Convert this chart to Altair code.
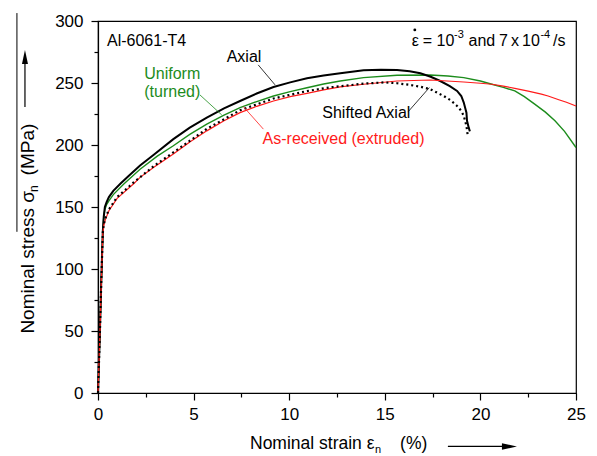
import altair as alt
import pandas as pd

# ---------------- data ----------------
AXIAL_STRAIN = [0, 0.1, 0.17, 0.25, 0.3, 0.36, 0.45, 0.57, 0.8, 1.18, 1.6, 2.2, 2.9, 3.94, 4.8,
                5.69, 6.59, 7.43, 8.3, 9.18, 10.05, 10.93, 11.8, 12.67, 13.89, 14.8, 15.64, 16.3,
                16.86, 17.4, 17.9, 18.4, 18.78, 19.0, 19.13, 19.27, 19.3, 19.39, 19.45]
AXIAL_STRESS = [0, 50, 90, 130, 142, 150, 154, 158, 163, 169, 175, 183.5, 192, 204.7, 214,
                222, 229.5, 235.5, 241.5, 246.8, 250.5, 253.8, 256, 257.8, 260.2, 260.6, 260.5, 259.5,
                257.8, 255, 251.6, 247.5, 243.6, 239.5, 234.2, 226.1, 219.5, 214, 211]

UNIFORM_STRAIN = [0, 0.1, 0.18, 0.26, 0.3, 0.36, 0.45, 0.57, 0.8, 1.35, 2.2, 3.1, 3.94, 4.8,
                  5.69, 6.59, 7.43, 8.3, 9.18, 10.05, 10.93, 11.8, 12.67, 13.89, 15.64, 17.38,
                  18.3, 19.13, 20.0, 20.6, 21.2, 21.8, 22.3, 22.84, 23.4, 23.9, 24.4, 25.0]
UNIFORM_STRESS = [0, 50, 92, 132, 141.7, 148, 152, 155, 160, 168.5, 180.5, 191, 199.4, 208.5,
                  216.8, 224, 230.2, 235, 239.5, 243, 246.2, 249.2, 251.6, 254.3, 256.2, 256.4,
                  255.6, 254.3, 251.6, 249, 246.5, 243.6, 239, 233, 226.5, 219.5, 211, 198]

EXTRUDED_STRAIN = [0, 0.1, 0.17, 0.25, 0.3, 0.39, 0.57, 1.0, 1.88, 2.2, 2.92, 3.94, 4.8, 5.69,
                   6.59, 7.43, 8.3, 9.18, 10.05, 10.93, 11.8, 12.67, 13.89, 15.64, 17.38, 19.13,
                   20.0, 20.6, 21.2, 21.8, 22.5, 23.19, 23.54, 24.1, 24.5, 25.0]
EXTRUDED_STRESS = [0, 48, 88, 128, 135, 140, 147, 157, 169, 173.9, 182, 192.7, 202.5, 211.4,
                   219.5, 226.1, 231.2, 235.5, 239, 241.7, 244.5, 246.8, 249, 251.6, 252.4, 250.8,
                   249.8, 249, 247.5, 245.7, 243.5, 241, 239.5, 236.5, 234.5, 231.5]

SHIFTED_STRAIN = [0, 0.1, 0.17, 0.25, 0.3, 0.39, 0.57, 1.0, 1.88, 2.92, 3.94, 5.69, 7.43, 9.18,
                  10.93, 12.15, 13.89, 14.98, 15.64, 16.3, 16.86, 17.38, 17.7, 18.08, 18.45,
                  18.78, 19.0, 19.13, 19.27, 19.34]
SHIFTED_STRESS = [0, 49, 89, 129, 136, 141, 148, 158, 170, 183, 194, 213, 228, 237.5,
                  243.5, 246.5, 249.5, 250.5, 249.8, 248.5, 247, 245, 242.5, 239.5, 236,
                  231.5, 227.5, 223.5, 215.4, 207.4]

X_TICKS = [0, 2.5, 5, 7.5, 10, 12.5, 15, 17.5, 20, 22.5, 25]
Y_TICKS = [0, 25, 50, 75, 100, 125, 150, 175, 200, 225, 250, 275, 300]

GREEN = "#1c8c1c"
RED = "#ff1a1a"
BLACK = "#000000"
FONT = "Liberation Sans"

# annotation texts: (strain, stress, text, colour, font size, angle)
TEXT_X = [0.47,
          16.41, 16.98, 17.71, 18.62, 19.38, 20.97, 21.6, 22.18, 23.14, 23.8,
          6.73, 2.42, 2.42, 11.73, 8.61,
          7.95, 14.49, 15.8,
          -3.35, -3.12, -3.35]
TEXT_Y = [279.5,
          279.5, 279.5, 279.5, 285.9, 279.5, 279.5, 279.5, 279.5, 285.9, 279.5,
          267.2, 253.0, 238.6, 221.6, 200.9,
          -45.5, -48.5, -45.5,
          47.9, 162.0, 175.5]
TEXT_S = ["Al-6061-T4",
          "\u03b5", "=", "10", "-3", "and", "7", "x", "10", "-4", "/s",
          "Axial", "Uniform", "(turned)", "Shifted Axial", "As-received (extruded)",
          "Nominal strain \u03b5", "n", "(%)",
          "Nominal stress \u03c3", "n", "(MPa)"]
TEXT_C = [BLACK,
          BLACK, BLACK, BLACK, BLACK, BLACK, BLACK, BLACK, BLACK, BLACK, BLACK,
          BLACK, GREEN, GREEN, BLACK, RED,
          BLACK, BLACK, BLACK,
          BLACK, BLACK, BLACK]
TEXT_F = [16,
          16, 16, 16, 11, 16, 16, 16, 16, 11, 16,
          16, 16, 16, 16, 16,
          17.5, 11, 17.5,
          19, 12, 19]
TEXT_A = [0,
          0, 0, 0, 0, 0, 0, 0, 0, 0, 0,
          0, 0, 0, 0, 0,
          0, 0, 0,
          270, 270, 270]

# leader lines, axis-title arrows and overline: from (x1,y1) to (x2,y2)
RULE_X1 = [8.38, 5.33, 16.23, 8.65, 18.3, -3.82, -4.24]
RULE_Y1 = [264.6, 240.4, 227.0, 212.8, -43.1, 230.7, 306.4]
RULE_X2 = [9.26, 6.47, 17.33, 7.6, 21.3, -3.82, -4.24]
RULE_Y2 = [248.5, 224.3, 246.3, 231.0, -43.1, 270.0, 130.0]
RULE_C = [BLACK, GREEN, BLACK, RED, BLACK, BLACK, BLACK]
RULE_W = [0.8, 0.8, 0.8, 0.8, 1.2, 1.2, 1.0]

HEAD_X = [21.91, -3.82]
HEAD_Y = [-43.1, 276.6]
HEAD_SHAPE = ["M 0 0 L -3 -0.65 L -3 0.65 Z", "M 0 0 L -0.6 2.8 L 0.6 2.8 Z"]

DOT_X = [16.57]
DOT_Y = [292.8]

# ---------------- build tables ----------------
def series(xs, ys):
    return pd.DataFrame({"strain": xs, "stress": ys, "order": list(range(len(xs)))})

axial_df = series(AXIAL_STRAIN, AXIAL_STRESS)
uniform_df = series(UNIFORM_STRAIN, UNIFORM_STRESS)
extruded_df = series(EXTRUDED_STRAIN, EXTRUDED_STRESS)
shifted_df = series(SHIFTED_STRAIN, SHIFTED_STRESS)

text_df = pd.DataFrame({"strain": TEXT_X, "stress": TEXT_Y, "label": TEXT_S,
                        "color": TEXT_C, "fsize": TEXT_F, "angle": TEXT_A})
rule_df = pd.DataFrame({"strain": RULE_X1, "stress": RULE_Y1, "strain2": RULE_X2,
                        "stress2": RULE_Y2, "color": RULE_C, "w": RULE_W})
head_df = pd.DataFrame({"strain": HEAD_X, "stress": HEAD_Y, "shape": HEAD_SHAPE})
dot_df = pd.DataFrame({"strain": DOT_X, "stress": DOT_Y})

x_scale = alt.Scale(domain=[0, 25], nice=False, zero=False)
y_scale = alt.Scale(domain=[0, 300], nice=False, zero=False)

common_axis = dict(title=None, grid=False, domainColor="black", domainWidth=1.2,
                   tickColor="black", tickWidth=1.2, labelFont=FONT, labelFontSize=17,
                   labelColor="black")

x_axis = alt.Axis(values=X_TICKS,
                  labelExpr="datum.value % 5 === 0 ? datum.label : ''",
                  tickSize={"condition": {"test": "datum.value % 5 === 0", "value": 7}, "value": 4},
                  labelPadding=6, labelFlush=False, **common_axis)
y_axis = alt.Axis(values=Y_TICKS,
                  labelExpr="datum.value % 50 === 0 ? datum.label : ''",
                  tickSize={"condition": {"test": "datum.value % 50 === 0", "value": 7}, "value": 4},
                  labelPadding=8, labelFlush=False, **common_axis)

X = alt.X("strain:Q", scale=x_scale, axis=x_axis)
Y = alt.Y("stress:Q", scale=y_scale, axis=y_axis)

def line(df, color, width, dash=None):
    kw = dict(color=color, strokeWidth=width, clip=False)
    if dash:
        kw.update(strokeDash=dash, strokeCap="butt")
    return alt.Chart(df).mark_line(**kw).encode(x=X, y=Y, order="order:Q")

uniform = line(uniform_df, GREEN, 1.4)
axial = line(axial_df, BLACK, 2.0)
extruded = line(extruded_df, RED, 1.2)
shifted = line(shifted_df, BLACK, 2.2, dash=[2, 3])

rules = alt.Chart(rule_df).mark_rule().encode(
    x=X, y=Y, x2="strain2:Q", y2="stress2:Q",
    color=alt.Color("color:N", scale=None),
    strokeWidth=alt.StrokeWidth("w:Q", scale=None),
)

heads = alt.Chart(head_df).mark_point(filled=True, size=100, opacity=1, color="black",
                                      strokeWidth=0).encode(
    x=X, y=Y, shape=alt.Shape("shape:N", scale=None))

dot = alt.Chart(dot_df).mark_point(filled=True, size=8, opacity=1, color="black").encode(x=X, y=Y)

texts = alt.Chart(text_df).mark_text(align="left", baseline="alphabetic", font=FONT).encode(
    x=X, y=Y, text="label:N",
    color=alt.Color("color:N", scale=None),
    size=alt.Size("fsize:Q", scale=None),
    angle=alt.Angle("angle:Q", scale=None),
)

chart = alt.layer(uniform, axial, extruded, shifted, rules, heads, dot, texts).properties(
    width=478, height=372,
    autosize=alt.AutoSizeParams(type="none"),
    padding={"left": 98, "top": 21, "right": 21, "bottom": 63},
    background="white",
).configure_view(stroke="black", strokeWidth=1.2)

chart.save("out.html", embed_options={"renderer": "svg", "actions": False})
